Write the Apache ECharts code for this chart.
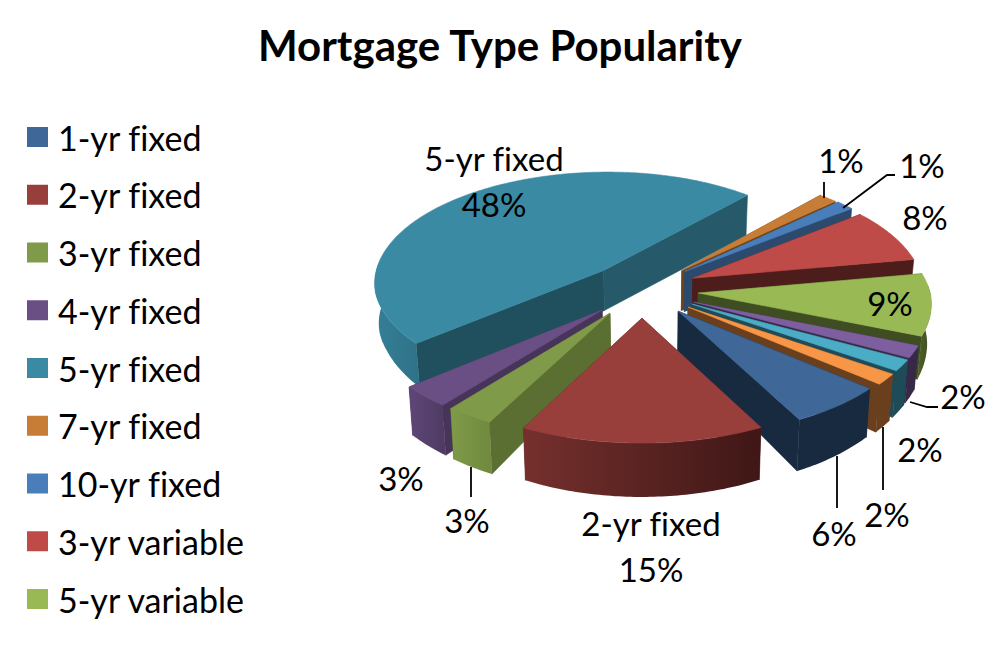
<!DOCTYPE html>
<html><head><meta charset="utf-8">
<style>html,body{margin:0;padding:0;background:#fff}#c{width:1000px;height:667px}svg text{font-variant-ligatures:none !important}</style>
<script src="https://cdn.jsdelivr.net/npm/echarts@6/dist/echarts.min.js"></script>
</head><body><div id="c"></div>
<script>
// ---- data ----
const categories = ['1-yr fixed','2-yr fixed','3-yr fixed','4-yr fixed','5-yr fixed','7-yr fixed','10-yr fixed','3-yr variable','5-yr variable','1-yr variable','7-yr variable','10-yr variable'];
const shareValues = [6.1,15.45,3.05,3.25,47.6,1.45,1.4,7.8,8.9,1.75,1.65,1.6];
const legendCount = 9;
// ---- styles ----
const topColors  = ['#3F6797','#983F3C','#7F9A48','#6A4F85','#3A8AA4','#C87D36','#4A7EBB','#BE4B48','#98B954','#7D5FA0','#4BACC6','#F79646'];
const startWall  = ['#182A40','#5A2422','#5C6F33','#473559','#204F5E','#6F4218','#2C4A6E','#4D1D1C','#3F4D22','#362846','#1F4A57','#693F1E'];
const endWall    = ['#182A40','#5A2422','#5C6F33','#473559','#265A6A','#6F4218','#2C4A6E','#4D1D1C','#3F4D22','#362846','#1F4A57','#693F1E'];
const outerFrom  = ['#182A40','#75302D','#7F9A48','#5E4676','#347F97','#6F4218','#2C4A6E','#4D1D1C','#4F6028','#362846','#1F4A57','#693F1E'];
const outerTo    = ['#182A40','#3F1716','#6F8A3E','#4F3A64','#2F7288','#6F4218','#2C4A6E','#4D1D1C','#3F4D22','#362846','#1F4A57','#693F1E'];
// pull-out of every slice, in units of the pie radius (right, towards viewer)
const pullU = [.12,-.034,-.17,-.204,-.204,.14,.153,.187,.208,.187,.179,.162];
const pullV = [.16,.22,.177,.15,-.204,-.204,-.195,-.133,0,.08,.097,.124];
// label layout: text centre, leader polyline, whether to show the category
const labelAt = [[834,533],[651,546],[467,520],[401,478],[494,181],[841,160],[922,165],[925,217],[890,303],[963,396],[920,449],[887,514]];
const showName = [0,1,0,0,1,0,0,0,0,0,0,0];
const leaders = [[[837,456],[837,508]],null,[[471,467],[471,497]],null,null,[[824,182],[824,198]],[[895,175],[887,175],[843,208]],null,null,[[938,407],[927,407],[910,402]],null,[[883,427],[883,490]]];

// ---- geometry ----
const cx = 650, cy = 293, R = 232, k = 0.485, firstAngle = 130;
const perspBack = 0.1, perspFrontX = 0.08, perspFrontY = 0.07;
const total = shareValues.reduce((a,b)=>a+b,0);
function thick(v){ return Math.max(40, 38 + 13*v); }
function topPt(u,v){
  const sx = 1/(1-(v>0?perspFrontX:perspBack)*v), sy = 1/(1-(v>0?perspFrontY:perspBack)*v);
  return [cx+R*u*sx, cy+R*k*v*sy];
}
function bottomPt(u,v){ const p = topPt(u,v); return [cx+(p[0]-cx)*0.985, p[1]+thick(v)]; }
function sliceRange(i){
  let c = 0; for(let j=0;j<i;j++) c += shareValues[j];
  return [firstAngle + c/total*360, firstAngle + (c+shareValues[i])/total*360];
}
function pt(i,deg){ const a=deg*Math.PI/180; return [pullU[i]+Math.sin(a), pullV[i]-Math.cos(a)]; }
function faces(deg){ const d=((deg%360)+360)%360; return d>=86 && d<=274; }
function poly(points, fill, z2){
  return {type:'polygon', z2, shape:{points}, style:{fill, stroke:(typeof fill==='string')?fill:null, lineWidth:(typeof fill==='string')?0.6:0}};
}
function drawSlice(i, api){
  const value = api.value(0);
  const [a0,a1] = sliceRange(i);
  const n = Math.max(6, Math.ceil(value*4));
  const arc = [], front = [];
  for(let t=0;t<=n;t++){ const d=a0+(a1-a0)*t/n; arc.push(pt(i,d)); if(faces(d)) front.push(pt(i,d)); }
  const apex = [pullU[i],pullV[i]];
  const T = p=>topPt(p[0],p[1]), B = p=>bottomPt(p[0],p[1]);
  const grad = {type:'linear',x:0,y:0,x2:1,y2:0,colorStops:[{offset:0,color:outerFrom[i]},{offset:1,color:outerTo[i]}]};
  const children = [
    poly([T(apex),T(arc[0]),B(arc[0]),B(apex)], startWall[i], 1),
    poly([T(apex),T(arc[n]),B(arc[n]),B(apex)], endWall[i], 1),
    poly([T(apex)].concat(arc.map(T)), topColors[i], 3)
  ];
  if(front.length>1) children.push(poly(front.map(T).concat(front.slice().reverse().map(B)), grad, 2));
  return {type:'group',children};
}
function drawLabel(i, api){
  const value = Math.round(api.value(0));
  const txt = (showName[i] ? categories[i]+'\n' : '') + value + '%';
  const ch = [{type:'text', z2:5, style:{x:labelAt[i][0],y:labelAt[i][1],text:txt,fill:'#000',
    font:'33px Lato',align:'center',verticalAlign:'middle',lineHeight:46}}];
  if(leaders[i]) ch.push({type:'polyline',z2:4,shape:{points:leaders[i]},style:{stroke:'#000',lineWidth:1.8,fill:null}});
  return {type:'group',children:ch};
}
// paint far slices first
const depth = shareValues.map((_,i)=>{const r=sliceRange(i);return -Math.cos((r[0]+r[1])/2*Math.PI/180);});
const order = depth.map((d,i)=>[d,i]).sort((a,b)=>a[0]-b[0]).map(x=>x[1]);
const rank = i=>order.indexOf(i);
const series = categories.map((name,i)=>({
  type:'custom', name, coordinateSystem:'none', silent:true, z:2+rank(i),
  itemStyle:{color:topColors[i]},
  data:[[shareValues[i]]],
  renderItem:(p,api)=>drawSlice(i,api)
}));
series.push({type:'custom', name:'labels', coordinateSystem:'none', silent:true, z:50,
  data:shareValues.map(v=>[v]),
  renderItem:(p,api)=>drawLabel(p.dataIndex,api)});

const chart = echarts.init(document.getElementById('c'),null,{renderer:'svg'});
chart.setOption({
  animation:false, backgroundColor:'#fff',
  title:{text:'Mortgage Type Popularity',left:'center',top:24,padding:0,textStyle:{fontFamily:'Lato',fontWeight:'bold',fontSize:42,color:'#000'}},
  legend:{data:categories.slice(0,legendCount),orient:'vertical',left:27,top:120,padding:0,icon:'rect',itemWidth:21,itemHeight:20,itemGap:23.75,
    textStyle:{fontFamily:'Lato',fontSize:34,color:'#000',padding:[0,0,0,5]},selectedMode:false},
  series
});
</script></body></html>
